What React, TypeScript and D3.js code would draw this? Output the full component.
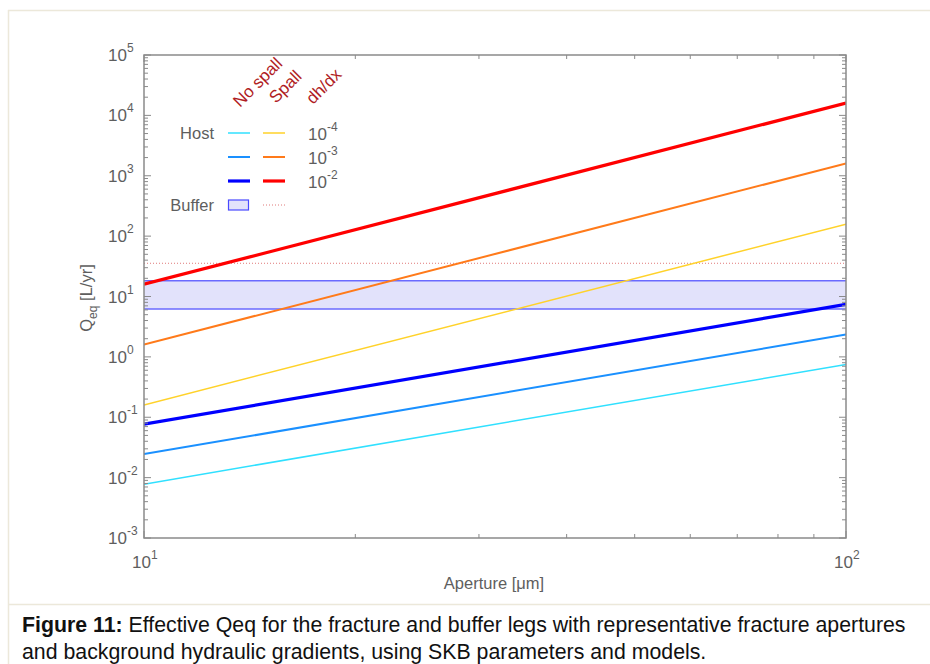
import React from "react";
import * as d3 from "d3";

// chart data
const apertureEnds = [10, 100];
const gradientExps = [-4, -3, -2];
const noSpallQ = [
  [0.0078, 0.75],
  [0.0245, 2.35],
  [0.077, 7.4],
];
const spallQ = [
  [0.16, 158],
  [1.6, 1600],
  [16, 16000],
];
const bufferBand = [6.2, 18.3];
const bufferSpall = [35.5];
const yDecades = [-3, -2, -1, 0, 1, 2, 3, 4, 5];
const xDecades = [1, 2];

const noSpallColors = ["#30e0ff", "#1a90ff", "#0000ff"];
const spallColors = ["#ffd22a", "#ff7a1a", "#ff0000"];
const lineWidths = [1.5, 2, 3.2];

const W = 930;
const H = 664;
const MARGIN = { top: 55, right: 84, bottom: 126, left: 144 };
const AXIS = "#8a8a8a";
const LABEL = "#5e5e5e";
const HEAD = "#b01c24";
const FONT = "Liberation Sans, Arial, sans-serif";

const Pow = ({ x, y, exp, anchor }: { x: number; y: number; exp: number; anchor: string }) => (
  <text x={x} y={y} textAnchor={anchor} fontSize={17} fill={LABEL} fontFamily={FONT}>
    <tspan>10</tspan>
    <tspan dy={-9} fontSize={12}>{exp}</tspan>
  </text>
);

export default function App() {
  const boundsWidth = W - MARGIN.left - MARGIN.right;
  const boundsHeight = H - MARGIN.top - MARGIN.bottom;
  const x0 = MARGIN.left;
  const y0 = MARGIN.top;

  const xScale = d3.scaleLog().domain([10, 100]).range([x0, x0 + boundsWidth]);
  const yScale = d3.scaleLog().domain([1e-3, 1e5]).range([y0 + boundsHeight, y0]);

  const lineBuilder = d3
    .line<[number, number]>()
    .x((d) => xScale(d[0]))
    .y((d) => yScale(d[1]));

  const series = (vals: number[]) => apertureEnds.map((a, i) => [a, vals[i]] as [number, number]);

  // minor ticks
  const yMinor: number[] = [];
  for (let k = -3; k < 5; k++) for (let m = 2; m <= 9; m++) yMinor.push(m * Math.pow(10, k));
  const xMinor: number[] = [];
  for (let m = 2; m <= 9; m++) xMinor.push(m * 10);

  const xL = x0;
  const xR = x0 + boundsWidth;
  const yT = y0;
  const yB = y0 + boundsHeight;

  const legendRows = [133, 157, 181];

  return (
    <svg
      width={W}
      height={H}
      style={{ position: "absolute", left: 0, top: 0, background: "#fff" }}
    >
      {/* page frame */}
      <line x1={8.5} y1={10} x2={8.5} y2={H} stroke="#ece8da" strokeWidth={1.5} />
      <line x1={8} y1={10.5} x2={W} y2={10.5} stroke="#ece8da" strokeWidth={1.5} />
      <line x1={8} y1={604.5} x2={W} y2={604.5} stroke="#ece8da" strokeWidth={1.5} />

      <defs>
        <clipPath id="plot">
          <rect x={xL} y={yT} width={boundsWidth} height={boundsHeight} />
        </clipPath>
      </defs>

      <g clipPath="url(#plot)">
        {/* buffer band */}
        <rect
          x={xL}
          y={yScale(bufferBand[1])}
          width={boundsWidth}
          height={yScale(bufferBand[0]) - yScale(bufferBand[1])}
          fill="#e2e2fb"
        />
        {bufferBand.map((v, i) => (
          <line key={i} x1={xL} x2={xR} y1={yScale(v)} y2={yScale(v)} stroke="#6a6aff" strokeWidth={1.5} />
        ))}
        {bufferSpall.map((v, i) => (
          <line key={i} x1={xL} x2={xR} y1={yScale(v)} y2={yScale(v)} stroke="#e07a7a" strokeWidth={1} strokeDasharray="1,2" />
        ))}

        {noSpallQ.map((vals, i) => (
          <path key={"n" + i} d={lineBuilder(series(vals)) || ""} fill="none" stroke={noSpallColors[i]} strokeWidth={lineWidths[i]} />
        ))}
        {spallQ.map((vals, i) => (
          <path key={"s" + i} d={lineBuilder(series(vals)) || ""} fill="none" stroke={spallColors[i]} strokeWidth={lineWidths[i]} />
        ))}
      </g>

      {/* axes box */}
      <rect x={xL} y={yT} width={boundsWidth} height={boundsHeight} fill="none" stroke={AXIS} strokeWidth={1.5} />

      {/* y ticks */}
      {yDecades.map((k) => {
        const y = yScale(Math.pow(10, k));
        return (
          <g key={"y" + k}>
            <line x1={xL} x2={xL + 7} y1={y} y2={y} stroke={AXIS} />
            <line x1={xR} x2={xR - 7} y1={y} y2={y} stroke={AXIS} />
            <Pow x={108} y={y + 6} exp={k} anchor="start" />
          </g>
        );
      })}
      {yMinor.map((v, i) => {
        const y = yScale(v);
        return (
          <g key={"ym" + i}>
            <line x1={xL} x2={xL + 4} y1={y} y2={y} stroke={AXIS} />
            <line x1={xR} x2={xR - 4} y1={y} y2={y} stroke={AXIS} />
          </g>
        );
      })}

      {/* x ticks */}
      {xDecades.map((k) => {
        const x = xScale(Math.pow(10, k));
        return (
          <g key={"x" + k}>
            <line x1={x} x2={x} y1={yB} y2={yB - 7} stroke={AXIS} />
            <line x1={x} x2={x} y1={yT} y2={yT + 7} stroke={AXIS} />
            <Pow x={x - 12} y={568} exp={k} anchor="start" />
          </g>
        );
      })}
      {xMinor.map((v, i) => {
        const x = xScale(v);
        return (
          <g key={"xm" + i}>
            <line x1={x} x2={x} y1={yB} y2={yB - 4} stroke={AXIS} />
            <line x1={x} x2={x} y1={yT} y2={yT + 4} stroke={AXIS} />
          </g>
        );
      })}

      {/* axis labels */}
      <text x={494} y={589} textAnchor="middle" fontSize={16.5} fill={LABEL} fontFamily={FONT}>
        Aperture [μm]
      </text>
      <text transform="translate(92,298) rotate(-90)" textAnchor="middle" fontSize={16.5} fill={LABEL} fontFamily={FONT}>
        <tspan>Q</tspan>
        <tspan dy={5} fontSize={12}>eq</tspan>
        <tspan dy={-5}> [L/yr]</tspan>
      </text>

      {/* legend headers */}
      {[
        { t: "No spall", x: 240, y: 108 },
        { t: "Spall", x: 276, y: 104 },
        { t: "dh/dx", x: 313, y: 105 },
      ].map((h) => (
        <text key={h.t} transform={`translate(${h.x},${h.y}) rotate(-45)`} fontSize={17} fill={HEAD} fontFamily={FONT}>
          {h.t}
        </text>
      ))}

      <text x={214} y={139} textAnchor="end" fontSize={16.5} fill={LABEL} fontFamily={FONT}>Host</text>
      {legendRows.map((y, i) => (
        <g key={"lg" + i}>
          <line x1={228} x2={250} y1={y} y2={y} stroke={noSpallColors[i]} strokeWidth={lineWidths[i]} />
          <line x1={263} x2={285} y1={y} y2={y} stroke={spallColors[i]} strokeWidth={lineWidths[i]} />
          <Pow x={308} y={y + 7} exp={gradientExps[i]} anchor="start" />
        </g>
      ))}
      <text x={214} y={211} textAnchor="end" fontSize={16.5} fill={LABEL} fontFamily={FONT}>Buffer</text>
      <rect x={228.5} y={200} width={20} height={10} fill="#e2e2fb" stroke="#4a4aff" strokeWidth={1.2} />
      <line x1={263} x2={285} y1={205} y2={205} stroke="#e07a7a" strokeWidth={1} strokeDasharray="1,2" />

      {/* caption */}
      <text x={22} y={632} fontSize={21.3} fill="#111" fontFamily={FONT}>
        <tspan fontWeight="bold">Figure 11:</tspan>
        <tspan> Effective Qeq for the fracture and buffer legs with representative fracture apertures</tspan>
      </text>
      <text x={22} y={659} fontSize={21.3} fill="#111" fontFamily={FONT}>
        and background hydraulic gradients, using SKB parameters and models.
      </text>
    </svg>
  );
}
